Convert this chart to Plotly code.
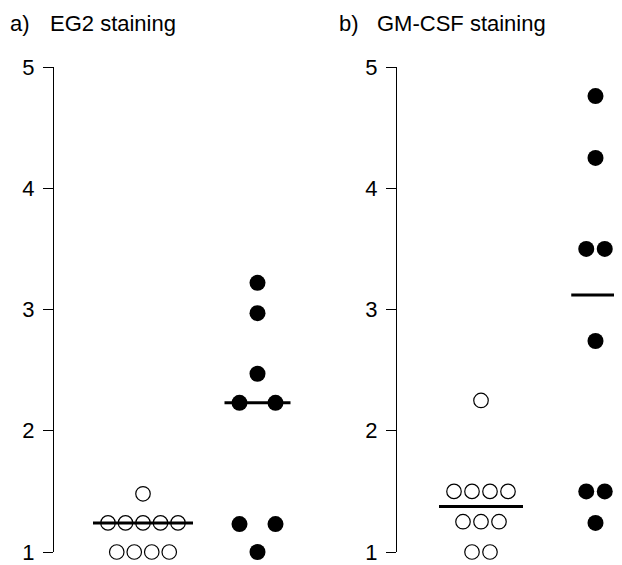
import plotly.graph_objects as go
import numpy as np

# ---- data ----
panel_titles = ["EG2 staining", "GM-CSF staining"]
panel_letters = ["a)", "b)"]
tick_values = [1, 2, 3, 4, 5]
tick_labels = ["1", "2", "3", "4", "5"]

eg2_open = [1.48, 1.24, 1.24, 1.24, 1.24, 1.24, 1.0, 1.0, 1.0, 1.0]
eg2_filled = [3.22, 2.97, 2.47, 2.23, 2.23, 1.23, 1.23, 1.0]
gmcsf_open = [2.25, 1.5, 1.5, 1.5, 1.5, 1.25, 1.25, 1.25, 1.0, 1.0]
gmcsf_filled = [4.76, 4.25, 3.5, 3.5, 2.74, 1.5, 1.5, 1.24]

# ---- layout constants (page pixels; the page body adds an 8px offset) ----
OFF = 8
W, H = 622 - OFF, 565 - OFF
PX_PER_UNIT = 114.5
FONT = "Liberation Sans, Arial, Helvetica, sans-serif"
FS = 22
y_top_px, y_bot_px = 67 - OFF, 552 - OFF
title_mid_px = 24 - OFF

panels = [
    dict(axis_px=54 - OFF, right_px=330 - OFF, center_px=143 - OFF,
         data=[eg2_open, eg2_filled], spacing=[17.5, 36],
         letter_px=8 - OFF, title_px=48 - OFF),
    dict(axis_px=397 - OFF, right_px=622 - OFF, center_px=481 - OFF,
         data=[gmcsf_open, gmcsf_filled], spacing=[18, 18.5],
         letter_px=337 - OFF, title_px=375 - OFF),
]


def swarm(values, spacing_px):
    vals = np.array(values, dtype=float)
    offs = np.zeros(len(vals))
    max_half = 0.0
    for v in np.unique(vals):
        idx = np.where(vals == v)[0]
        k = len(idx)
        o = (np.arange(k) - (k - 1) / 2) * spacing_px
        offs[idx] = o
        max_half = max(max_half, (k - 1) / 2 * spacing_px)
    return offs / PX_PER_UNIT, max_half


fig = go.Figure()
layout = dict(
    template="none",
    width=W, height=H, margin=dict(l=0, r=0, t=0, b=0, pad=0, autoexpand=False),
    paper_bgcolor="white", plot_bgcolor="white", showlegend=False,
    font=dict(family=FONT, size=FS, color="black"),
)
annotations = []

for p_i, p in enumerate(panels):
    xa = "x" if p_i == 0 else "x2"
    ya = "y" if p_i == 0 else "y2"
    xkey = "xaxis" if p_i == 0 else "xaxis2"
    ykey = "yaxis" if p_i == 0 else "yaxis2"
    x0 = 1 - (p["center_px"] - p["axis_px"]) / PX_PER_UNIT
    x1 = 1 + (p["right_px"] - p["center_px"]) / PX_PER_UNIT
    layout[xkey] = dict(domain=[p["axis_px"] / W, p["right_px"] / W], range=[x0, x1],
                        visible=False, anchor=ya, automargin=False)
    layout[ykey] = dict(domain=[(H - y_bot_px) / H, (H - y_top_px) / H], range=[1, 5],
                        anchor=xa, showline=True, linecolor="black", linewidth=1,
                        ticks="outside", ticklen=10, tickwidth=1, tickcolor="black",
                        tickvals=tick_values, ticktext=tick_labels, showgrid=False,
                        zeroline=False, ticklabelstandoff=4, automargin=False,
                        tickfont=dict(family=FONT, size=FS, color="black"))
    for g_i, (vals, sp) in enumerate(zip(p["data"], p["spacing"])):
        center = g_i + 1
        offs, max_half = swarm(vals, sp)
        filled = g_i == 1
        fig.add_trace(go.Scatter(
            x=center + offs, y=vals, mode="markers", xaxis=xa, yaxis=ya,
            cliponaxis=False,
            marker=dict(symbol="circle" if filled else "circle-open",
                        size=16 if filled else 14.5, color="black",
                        line=dict(width=0 if filled else 1.2, color="black")),
        ))
        med = float(np.median(vals))
        hw = (max_half + 15) / PX_PER_UNIT
        fig.add_trace(go.Scatter(
            x=[center - hw, center + hw], y=[med, med], mode="lines",
            xaxis=xa, yaxis=ya, line=dict(color="black", width=3),
        ))
    for txt, xp in ((panel_letters[p_i], p["letter_px"]), (panel_titles[p_i], p["title_px"])):
        annotations.append(dict(text=txt, x=xp / W, y=1 - title_mid_px / H,
                                xref="paper", yref="paper", xanchor="left", yanchor="middle",
                                showarrow=False, font=dict(family=FONT, size=FS)))

layout["annotations"] = annotations
fig.update_layout(**layout)
fig.write_html("out.html")
